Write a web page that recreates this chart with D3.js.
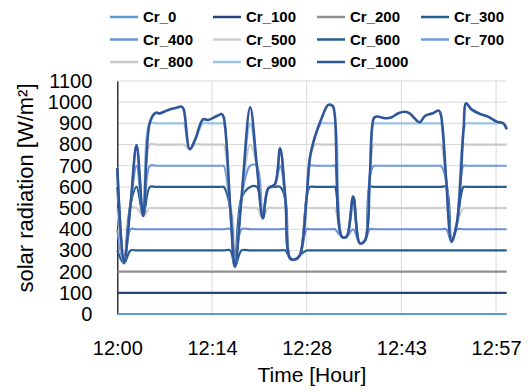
<!DOCTYPE html>
<html>
<head>
<meta charset="utf-8">
<script src="https://cdn.jsdelivr.net/npm/d3@7"></script>
<style>
  html, body { margin: 0; padding: 0; background: #fff; }
  svg { display: block; font-family: "Liberation Sans", Arial, sans-serif; }
</style>
</head>
<body>
<div id="chart"></div>
<script>
// time in minutes after 12:00
const times = [
  0, 1.0, 2.0, 2.9, 3.9, 4.9, 5.8, 6.4, 7.4, 8.2,
  8.9, 9.7, 10.0, 10.9, 11.7, 12.9, 13.7, 15.0, 15.7, 16.0,
  17.0, 17.7, 18.7, 20.0, 21.0, 21.9, 22.7, 23.7, 24.5, 25.3,
  26.0, 26.8, 27.5, 28.5, 29.0, 29.75, 30.75, 31.75, 32.4, 32.75,
  33.8, 34.5, 35.5, 36.5, 37.3, 38.0, 38.6, 39.0, 40.5, 41.3,
  42.3, 43.3, 44.0, 45.5, 46.3, 47.5, 48.4, 48.7, 49.5, 50.3,
  51.1, 52.1, 52.5, 53.3, 54.6, 55.8, 57.1, 58.1, 58.6
];

const cr0 = [
  0, 0, 0, 0, 0, 0, 0, 0, 0, 0,
  0, 0, 0, 0, 0, 0, 0, 0, 0, 0,
  0, 0, 0, 0, 0, 0, 0, 0, 0, 0,
  0, 0, 0, 0, 0, 0, 0, 0, 0, 0,
  0, 0, 0, 0, 0, 0, 0, 0, 0, 0,
  0, 0, 0, 0, 0, 0, 0, 0, 0, 0,
  0, 0, 0, 0, 0, 0, 0, 0, 0
];
const cr100 = [
  100, 100, 100, 100, 100, 100, 100, 100, 100, 100,
  100, 100, 100, 100, 100, 100, 100, 100, 100, 100,
  100, 100, 100, 100, 100, 100, 100, 100, 100, 100,
  100, 100, 100, 100, 100, 100, 100, 100, 100, 100,
  100, 100, 100, 100, 100, 100, 100, 100, 100, 100,
  100, 100, 100, 100, 100, 100, 100, 100, 100, 100,
  100, 100, 100, 100, 100, 100, 100, 100, 100
];
const cr200 = [
  200, 200, 200, 200, 200, 200, 200, 200, 200, 200,
  200, 200, 200, 200, 200, 200, 200, 200, 200, 200,
  200, 200, 200, 200, 200, 200, 200, 200, 200, 200,
  200, 200, 200, 200, 200, 200, 200, 200, 200, 200,
  200, 200, 200, 200, 200, 200, 200, 200, 200, 200,
  200, 200, 200, 200, 200, 200, 200, 200, 200, 200,
  200, 200, 200, 200, 200, 200, 200, 200, 200
];
const cr300 = [
  300, 240, 300, 300, 300, 300, 300, 300, 300, 300,
  300, 300, 300, 300, 300, 300, 300, 300, 300, 300,
  300, 223, 300, 300, 300, 300, 300, 300, 300, 300,
  263, 258, 279, 300, 300, 300, 300, 300, 300, 300,
  300, 300, 300, 300, 300, 300, 300, 300, 300, 300,
  300, 300, 300, 300, 300, 300, 300, 300, 300, 300,
  300, 300, 300, 300, 300, 300, 300, 300, 300
];
const cr400 = [
  400, 240, 400, 400, 400, 400, 400, 400, 400, 400,
  400, 400, 400, 400, 400, 400, 400, 400, 400, 400,
  400, 223, 400, 400, 400, 400, 400, 400, 400, 400,
  263, 258, 279, 400, 400, 400, 400, 400, 400, 400,
  365, 365, 400, 334, 349, 400, 400, 400, 400, 400,
  400, 400, 400, 400, 400, 400, 400, 400, 400, 341,
  400, 400, 400, 400, 400, 400, 400, 400, 400
];
const cr500 = [
  500, 240, 500, 500, 463, 500, 500, 500, 500, 500,
  500, 500, 500, 500, 500, 500, 500, 500, 500, 500,
  500, 223, 500, 500, 500, 452, 500, 500, 500, 500,
  263, 258, 279, 500, 500, 500, 500, 500, 500, 500,
  365, 365, 500, 334, 349, 500, 500, 500, 500, 500,
  500, 500, 500, 500, 500, 500, 500, 500, 500, 341,
  428, 500, 500, 500, 500, 500, 500, 500, 500
];
const cr600 = [
  600, 240, 520, 600, 463, 600, 600, 600, 600, 600,
  600, 600, 600, 600, 600, 600, 600, 600, 600, 600,
  500, 223, 550, 600, 600, 452, 593, 600, 600, 540,
  263, 258, 279, 554, 600, 600, 600, 600, 600, 600,
  365, 365, 554, 334, 349, 600, 600, 600, 600, 600,
  600, 600, 600, 600, 600, 600, 600, 600, 600, 341,
  428, 600, 600, 600, 600, 600, 600, 600, 600
];
const cr700 = [
  690, 240, 520, 700, 463, 700, 700, 700, 700, 700,
  700, 700, 700, 700, 700, 700, 700, 700, 700, 700,
  500, 223, 550, 700, 700, 452, 593, 612, 700, 540,
  263, 258, 279, 554, 700, 700, 700, 700, 700, 700,
  365, 365, 554, 334, 349, 650, 700, 700, 700, 700,
  700, 700, 700, 700, 700, 700, 700, 700, 630, 341,
  428, 700, 700, 700, 700, 700, 700, 700, 700
];
const cr800 = [
  690, 240, 520, 798, 463, 800, 800, 800, 800, 800,
  800, 800, 800, 778, 800, 800, 800, 800, 800, 800,
  500, 223, 550, 800, 700, 452, 593, 612, 782, 540,
  263, 258, 279, 554, 740, 800, 800, 800, 800, 800,
  365, 365, 554, 334, 349, 650, 800, 800, 800, 800,
  800, 800, 800, 800, 800, 800, 800, 800, 630, 341,
  428, 800, 800, 800, 800, 800, 800, 800, 800
];
const cr900 = [
  690, 240, 520, 798, 463, 900, 900, 900, 900, 900,
  900, 900, 900, 778, 822, 900, 900, 900, 900, 900,
  500, 223, 550, 900, 700, 452, 593, 612, 782, 540,
  263, 258, 279, 554, 740, 837, 900, 900, 900, 900,
  365, 365, 554, 334, 349, 650, 900, 900, 900, 900,
  900, 900, 900, 900, 900, 900, 900, 900, 630, 341,
  428, 869, 900, 900, 900, 900, 900, 900, 872
];
const cr1000 = [
  690, 240, 520, 798, 463, 905, 950, 947, 960, 969,
  974, 979, 965, 778, 822, 919, 916, 935, 944, 930,
  500, 223, 550, 976, 700, 452, 593, 612, 782, 540,
  263, 258, 279, 554, 740, 837, 924, 987, 982, 932,
  365, 365, 554, 334, 349, 650, 924, 932, 924, 929,
  948, 955, 947, 905, 935, 948, 960, 940, 630, 341,
  428, 869, 995, 966, 944, 932, 908, 900, 872
];

const seriesNames = ['Cr_0', 'Cr_100', 'Cr_200', 'Cr_300', 'Cr_400', 'Cr_500',
  'Cr_600', 'Cr_700', 'Cr_800', 'Cr_900', 'Cr_1000'];
const seriesValues = [cr0, cr100, cr200, cr300, cr400, cr500, cr600, cr700, cr800, cr900, cr1000];

const xTickValues = [0, 14.25, 28.5, 42.75, 57];
const xTickLabels = ['12:00', '12:14', '12:28', '12:43', '12:57'];
const yTickValues = [0, 100, 200, 300, 400, 500, 600, 700, 800, 900, 1000, 1100];

const colors = ['#5B9BD5', '#264478', '#8F8F8F', '#255E91', '#6A8FD2', '#CFCFCF',
  '#255E91', '#6F9BDA', '#C9C9C9', '#9DC3E6', '#2F559B'];

const width = 531;
const height = 392;
const plot = { left: 117.3, right: 506.7, top: 81, bottom: 314 };

const svg = d3.select('#chart')
  .append('svg')
  .attr('width', width)
  .attr('height', height);

const x = d3.scaleLinear()
  .domain([0, 58.6])
  .range([plot.left, plot.right]);

const y = d3.scaleLinear()
  .domain([0, 1100])
  .range([plot.bottom, plot.top]);

// gridlines
svg.append('g')
  .selectAll('line')
  .data(yTickValues.slice(1))
  .join('line')
  .attr('x1', plot.left)
  .attr('x2', plot.right)
  .attr('y1', d => y(d))
  .attr('y2', d => y(d))
  .attr('stroke', '#D9D9D9')
  .attr('stroke-width', 1);

svg.append('g')
  .selectAll('line')
  .data(xTickValues.slice(1))
  .join('line')
  .attr('x1', d => x(d))
  .attr('x2', d => x(d))
  .attr('y1', plot.top)
  .attr('y2', plot.bottom)
  .attr('stroke', '#D9D9D9')
  .attr('stroke-width', 1);

// Y axis
const yAxis = svg.append('g')
  .attr('transform', `translate(${plot.left},0)`)
  .call(d3.axisLeft(y).tickValues(yTickValues).tickSize(0).tickPadding(25).tickFormat(d3.format('d')));
yAxis.select('.domain').attr('stroke', '#000').attr('stroke-width', 1.2);
yAxis.selectAll('text')
  .attr('font-size', 20)
  .attr('font-family', '"Liberation Sans", Arial, sans-serif')
  .attr('fill', '#000');

// X axis
const xAxis = svg.append('g')
  .attr('transform', `translate(0,${plot.bottom})`)
  .call(d3.axisBottom(x).tickValues(xTickValues).tickSize(0).tickPadding(27)
    .tickFormat((d, i) => xTickLabels[i]));
xAxis.select('.domain').remove();
xAxis.selectAll('text')
  .attr('font-size', 20)
  .attr('font-family', '"Liberation Sans", Arial, sans-serif')
  .attr('fill', '#000');

// axis titles
svg.append('text')
  .attr('x', (plot.left + plot.right) / 2)
  .attr('y', 382)
  .attr('text-anchor', 'middle')
  .attr('font-size', 21)
  .attr('fill', '#000')
  .text('Time [Hour]');

svg.append('text')
  .attr('transform', 'rotate(-90)')
  .attr('x', -188)
  .attr('y', 33)
  .attr('text-anchor', 'middle')
  .attr('font-size', 22)
  .attr('fill', '#000')
  .text('solar radiation [W/m²]');

// lines
const line = d3.line()
  .x((d, i) => x(times[i]))
  .y(d => y(d))
  .curve(d3.curveCatmullRom);

svg.append('g')
  .selectAll('path')
  .data(seriesValues)
  .join('path')
  .attr('fill', 'none')
  .attr('stroke', (d, i) => colors[i])
  .attr('stroke-width', (d, i) => i === seriesValues.length - 1 ? 2.6 : 2.2)
  .attr('stroke-linejoin', 'round')
  .attr('d', d => line(d));

// legend
const legendCols = [110, 213, 317, 421];
const legendRows = [17, 39.5, 62];
const legend = svg.append('g');
seriesNames.forEach((name, i) => {
  const lx = legendCols[i % 4];
  const ly = legendRows[Math.floor(i / 4)];
  legend.append('line')
    .attr('x1', lx)
    .attr('x2', lx + 28)
    .attr('y1', ly)
    .attr('y2', ly)
    .attr('stroke', colors[i])
    .attr('stroke-width', 2.5);
  legend.append('text')
    .attr('x', lx + 33)
    .attr('y', ly)
    .attr('dy', '0.35em')
    .attr('font-size', 15)
    .attr('font-weight', 'bold')
    .attr('fill', '#000')
    .text(name);
});
</script>
</body>
</html>
